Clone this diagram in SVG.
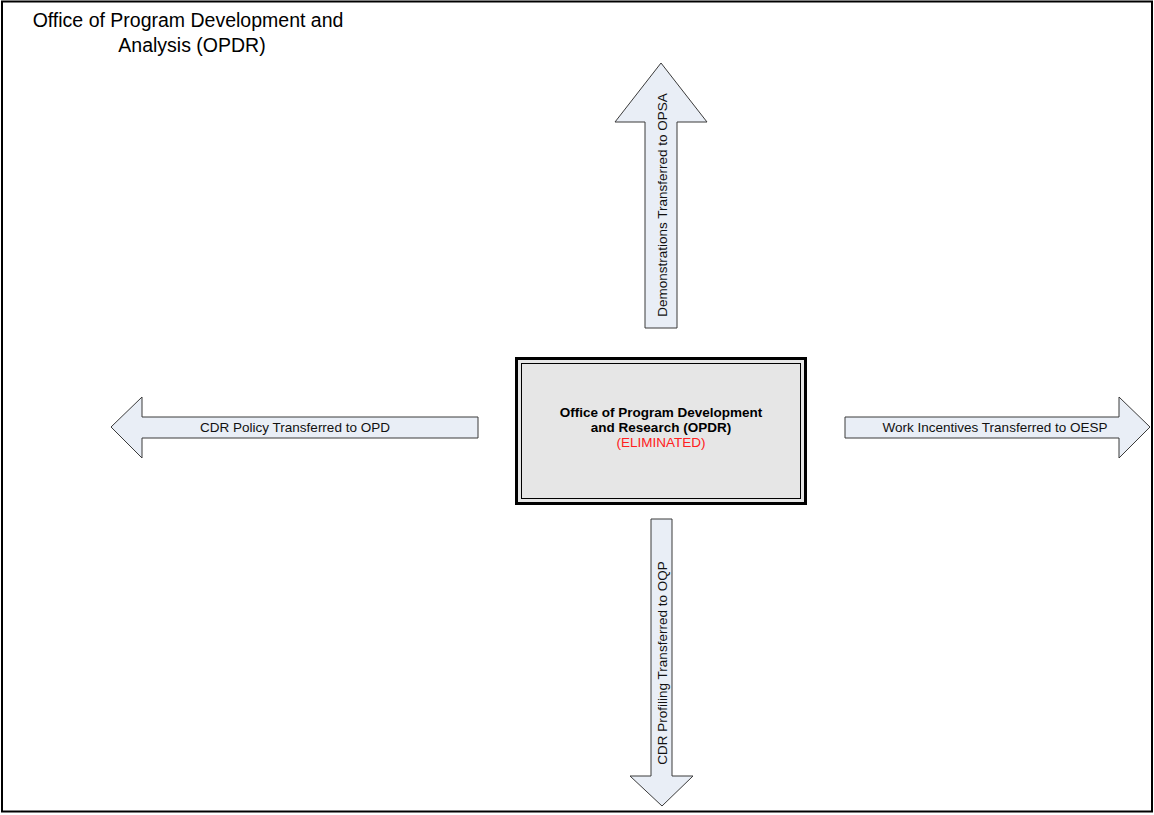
<svg xmlns="http://www.w3.org/2000/svg" width="1154" height="815" viewBox="0 0 1154 815">
<style>
.arrow{fill:#e9eef6;stroke:#3a3a3a;stroke-width:1}
.lbl{font-family:"Liberation Sans",Arial,sans-serif;font-size:13.5px;fill:#111}
.title{font-family:"Liberation Sans",Arial,sans-serif;font-size:19.5px;fill:#000}
.ctr{font-family:"Liberation Sans",Arial,sans-serif;font-size:13.5px;text-anchor:middle}
</style>
<rect x="2" y="1.5" width="1150" height="810" fill="#fff" stroke="#000" stroke-width="2"/>
<g id="title">
<text class="title" x="188" y="27" text-anchor="middle">Office of Program Development and</text>
<text class="title" x="192" y="52" text-anchor="middle">Analysis (OPDR)</text>
</g>
<g id="center">
<rect x="516.5" y="358.5" width="289" height="145" fill="#e6e6e6" stroke="#000" stroke-width="3"/>
<rect x="521.5" y="363.5" width="279" height="135" fill="none" stroke="#000" stroke-width="1"/>
<text class="ctr" x="661" y="417" font-weight="bold" fill="#000">Office of Program Development</text>
<text class="ctr" x="661" y="432" font-weight="bold" fill="#000">and Research (OPDR)</text>
<text class="ctr" x="661" y="447" fill="#ff2020">(ELIMINATED)</text>
</g>
<g id="connectors">
<g id="up">
<polygon class="arrow" points="661,63 707,122 677,122 677,328 645,328 645,122 615,122"/>
<text class="lbl" transform="translate(667,205) rotate(-90)" text-anchor="middle">Demonstrations Transferred to OPSA</text>
</g>
<g id="left">
<polygon class="arrow" points="111,427 142,397 142,417 478,417 478,438 142,438 142,458"/>
<text class="lbl" x="295" y="432" text-anchor="middle">CDR Policy Transferred to OPD</text>
</g>
<g id="right">
<polygon class="arrow" points="1150,427 1119,397 1119,417 845,417 845,438 1119,438 1119,458"/>
<text class="lbl" x="995" y="432" text-anchor="middle">Work Incentives Transferred to OESP</text>
</g>
<g id="down">
<polygon class="arrow" points="662,806 693,776 672,776 672,519 651,519 651,776 630,776"/>
<text class="lbl" transform="translate(667,663) rotate(-90)" text-anchor="middle">CDR Profiling Transferred to OQP</text>
</g>
</g>
</svg>
